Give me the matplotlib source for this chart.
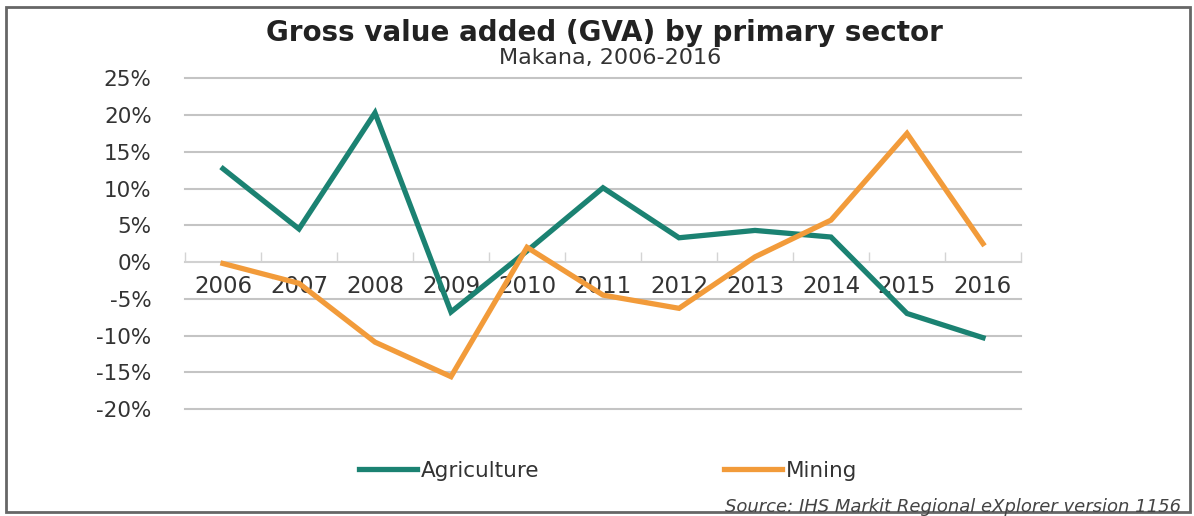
import matplotlib
matplotlib.use("Agg")
import matplotlib.pyplot as plt
from matplotlib.patches import Rectangle
from matplotlib.ticker import FixedLocator, FuncFormatter
from matplotlib.lines import Line2D

# Annual GVA growth by primary sector, Makana (percent)
years = ["2006", "2007", "2008", "2009", "2010", "2011",
         "2012", "2013", "2014", "2015", "2016"]
agriculture = [12.7, 4.5, 20.3, -6.8, 1.5, 10.1, 3.3, 4.3, 3.4, -7.0, -10.3]
mining = [-0.2, -2.9, -10.9, -15.6, 2.0, -4.5, -6.3, 0.7, 5.7, 17.5, 2.5]
y_ticks = [-20, -15, -10, -5, 0, 5, 10, 15, 20, 25]

title = "Gross value added (GVA) by primary sector"
subtitle = "Makana, 2006-2016"
source = "Source: IHS Markit Regional eXplorer version 1156"

GREEN = "#1B8272"
ORANGE = "#F29B3A"
GRID = "#C4C4C4"
TEXT = "#333333"

W, H = 1194, 516
fig = plt.figure(figsize=(W / 100, H / 100), dpi=100)
fig.patch.set_facecolor("white")

# plot area in pixel coordinates
left, right, top, bottom = 185, 1021, 78.3, 409
ax = fig.add_axes([left / W, 1 - bottom / H, (right - left) / W, (bottom - top) / H])
ax.set_facecolor("white")

x = list(range(len(years)))
ax.plot(x, agriculture, color=GREEN, lw=3.8, solid_joinstyle="miter", zorder=3,
        label="Agriculture", clip_on=False)
ax.plot(x, mining, color=ORANGE, lw=3.8, solid_joinstyle="miter", zorder=3,
        label="Mining", clip_on=False)

ax.set_xlim(-0.5, len(years) - 0.5)
ax.set_ylim(-20, 25)

# horizontal gridlines
ax.yaxis.set_major_locator(FixedLocator(y_ticks))
ax.yaxis.set_major_formatter(FuncFormatter(lambda v, p: f"{v:.0f}%"))
ax.grid(axis="y", color=GRID, lw=1.5)
for gl in ax.get_ygridlines():
    gl.set_clip_on(False)
ax.tick_params(axis="y", length=0, pad=24, labelsize=15.5, labelcolor=TEXT)

# category axis crossing at zero, tick marks between categories
for s in ["left", "right", "top"]:
    ax.spines[s].set_visible(False)
ax.spines["bottom"].set_position(("data", 0))
ax.spines["bottom"].set_color("#D4D4D4")
ax.spines["bottom"].set_linewidth(1.2)
ax.xaxis.set_major_locator(FixedLocator([i + 0.5 for i in range(-1, len(years))]))
ax.xaxis.set_major_formatter(FuncFormatter(lambda v, p: ""))
ax.xaxis.set_minor_locator(FixedLocator(x))
ax.set_xticklabels(years, minor=True)
ax.tick_params(axis="x", which="major", direction="in", length=7, width=1,
               color="#D4D4D4")
ax.tick_params(axis="x", which="minor", length=0, pad=9, labelsize=16.5,
               labelcolor=TEXT)

# titles
fig.text(604 / W, 1 - 33 / H, title, ha="center", va="center",
         fontsize=20, fontweight="bold", color="#222222")
fig.text(610 / W, 1 - 58 / H, subtitle, ha="center", va="center",
         fontsize=16, color=TEXT)

# legend
handles = [Line2D([], [], color=GREEN, lw=3.8),
           Line2D([], [], color=ORANGE, lw=3.8)]
fig.legend(handles, ["Agriculture", "Mining"], loc="center",
           bbox_to_anchor=(608 / W, 1 - 471 / H), ncol=2, frameon=False,
           fontsize=15.5, handlelength=2.7, handletextpad=0.15,
           columnspacing=8.6, labelcolor=TEXT)

# source note
fig.text(1181 / W, 1 - 507 / H, source, ha="right", va="center",
         fontsize=13, style="italic", color="#444444")

# outer frame
fig.patches.append(Rectangle((6 / W, 1 - 512 / H), (1190 - 6) / W, (512 - 7) / H,
                             transform=fig.transFigure, fill=False,
                             edgecolor="#666666", lw=2))

fig.savefig("out.png", dpi=100, facecolor="white")
